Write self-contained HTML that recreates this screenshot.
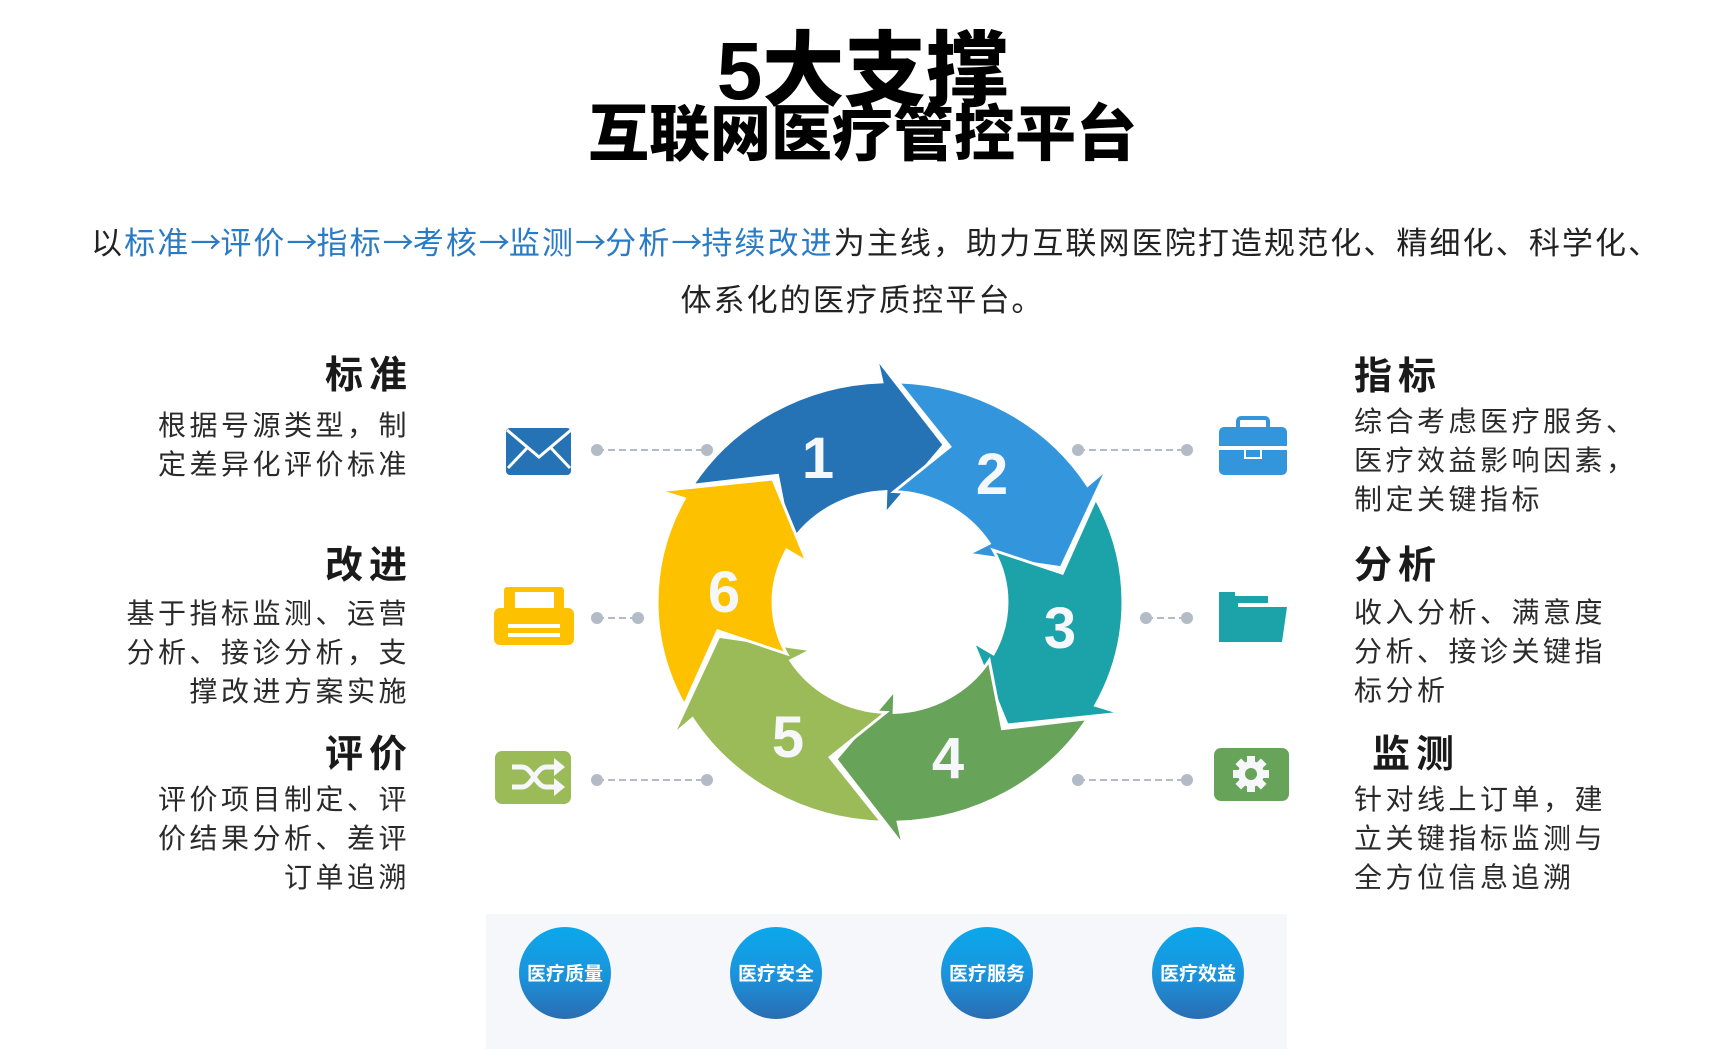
<!DOCTYPE html>
<html><head><meta charset="utf-8"><style>
body{margin:0;width:1725px;height:1049px;background:#fff;position:relative;overflow:hidden;font-family:"Liberation Sans","Noto Sans CJK SC",sans-serif;color:#222}
.a{position:absolute;white-space:nowrap}
.t1{left:0;width:1725px;text-align:center;top:24px;font-size:82px;font-weight:900;line-height:96px;color:#000}
.t2{left:0;width:1725px;text-align:center;top:96px;font-size:61px;font-weight:900;line-height:76px;color:#000}
.sub{left:91px;top:220px;font-size:31px;line-height:42px;color:#222;letter-spacing:2.1px}
.sub b{font-weight:normal;color:#2a7bc6}
.ar{font-family:"Noto Sans CJK SC",sans-serif;letter-spacing:-1px}
.h{font-size:38px;font-weight:bold;letter-spacing:6px;color:#1a1a1a;line-height:44px}
.p{font-size:28px;line-height:39px;color:#2a2a2a;letter-spacing:3.5px}
.L{right:1315px;text-align:right}
.R{left:1354px}
</style></head><body>
<div class="a t1">5大支撑</div>
<div class="a t2">互联网医疗管控平台</div>
<div class="a sub">以<b>标准<span class="ar">→</span>评价<span class="ar">→</span>指标<span class="ar">→</span>考核<span class="ar">→</span>监测<span class="ar">→</span>分析<span class="ar">→</span>持续改进</b>为主线，助力互联网医院打造规范化、精细化、科学化、</div>
<div class="a sub" style="left:0;width:1725px;text-align:center;top:280px">体系化的医疗质控平台。</div>

<div class="a h L" style="top:354px;right:1312px">标准</div>
<div class="a p L" style="top:406px">根据号源类型，制<br>定差异化评价标准</div>
<div class="a h L" style="top:544px;right:1312px">改进</div>
<div class="a p L" style="top:594px">基于指标监测、运营<br>分析、接诊分析，支<br>撑改进方案实施</div>
<div class="a h L" style="top:733px;right:1312px">评价</div>
<div class="a p L" style="top:780px">评价项目制定、评<br>价结果分析、差评<br>订单追溯</div>

<div class="a h R" style="top:355px">指标</div>
<div class="a p R" style="top:402px">综合考虑医疗服务、<br>医疗效益影响因素，<br>制定关键指标</div>
<div class="a h R" style="top:544px">分析</div>
<div class="a p R" style="top:593px">收入分析、满意度<br>分析、接诊关键指<br>标分析</div>
<div class="a h R" style="top:733px;left:1372px">监测</div>
<div class="a p R" style="top:780px">针对线上订单，建<br>立关键指标监测与<br>全方位信息追溯</div>

<svg class="a" style="left:0;top:0" width="1725" height="1049">
<defs><linearGradient id="g" x1="0" y1="0" x2="0" y2="1"><stop offset="0" stop-color="#0aa8ec"/><stop offset="0.5" stop-color="#1a95dd"/><stop offset="1" stop-color="#2a6db3"/></linearGradient></defs>
<g stroke="#b3bcc6" stroke-width="2" stroke-dasharray="7,4">
<line x1="597" y1="450" x2="707" y2="450"/><line x1="597" y1="618" x2="638" y2="618"/><line x1="597" y1="780" x2="707" y2="780"/>
<line x1="1078" y1="450" x2="1187" y2="450"/><line x1="1146" y1="618" x2="1187" y2="618"/><line x1="1078" y1="780" x2="1187" y2="780"/>
</g>
<g fill="#b3bcc6">
<circle cx="597" cy="450" r="6"/><circle cx="707" cy="450" r="6"/><circle cx="597" cy="618" r="6"/><circle cx="638" cy="618" r="6"/><circle cx="597" cy="780" r="6"/><circle cx="707" cy="780" r="6"/>
<circle cx="1078" cy="450" r="6"/><circle cx="1187" cy="450" r="6"/><circle cx="1146" cy="618" r="6"/><circle cx="1187" cy="618" r="6"/><circle cx="1078" cy="780" r="6"/><circle cx="1187" cy="780" r="6"/>
</g>
<rect x="506" y="428" width="65" height="47" rx="4" fill="#2573b5"/>
<path d="M507 430 L539 457 L571 430 M508 468 L527 448 M570 468 L551 448" stroke="#fff" stroke-width="3" fill="none"/>
<rect x="504" y="587" width="60" height="30" rx="3" fill="#fdc100"/>
<rect x="515" y="592" width="39" height="18" fill="#fff"/>
<rect x="494" y="608" width="80" height="37" rx="6" fill="#fdc100"/>
<rect x="508" y="624" width="52" height="4" fill="#fff"/><rect x="508" y="633" width="52" height="4" fill="#fff"/>
<rect x="495" y="751" width="76" height="53" rx="7" fill="#9bbb59"/>
<path d="M512 767 h10 c10 0 14 20 24 20 h10 M512 787 h10 c10 0 14 -20 24 -20 h10" stroke="#f5f7fa" stroke-width="5" fill="none"/>
<path d="M554 758 l11 9 l-11 9z M554 778 l11 9 l-11 9z" fill="#f5f7fa"/>
<rect x="1238" y="418" width="30" height="14" rx="3" fill="none" stroke="#3396dc" stroke-width="4"/>
<rect x="1219" y="427" width="68" height="48" rx="5" fill="#3396dc"/>
<rect x="1219" y="446" width="68" height="4" fill="#fff"/>
<rect x="1245" y="449" width="16" height="9" fill="#3396dc" stroke="#fff" stroke-width="2"/>
<path d="M1219 592 h16 v4 h33 v7 h-30 v39 h-19z" fill="#1ba3a9"/>
<path d="M1232 607 h55 l-5 35 h-50z" fill="#1ba3a9"/>
<rect x="1214" y="748" width="75" height="53" rx="7" fill="#68a35a"/>
<g transform="translate(1251,774)" fill="#f5f7fa">
<circle r="13"/>
<g id="tk"><rect x="-4" y="-18" width="8" height="8"/></g>
<use href="#tk" transform="rotate(45)"/><use href="#tk" transform="rotate(90)"/><use href="#tk" transform="rotate(135)"/><use href="#tk" transform="rotate(180)"/><use href="#tk" transform="rotate(225)"/><use href="#tk" transform="rotate(270)"/><use href="#tk" transform="rotate(315)"/>
<circle r="6" fill="#68a35a"/>
</g>
<g id="ring" transform="translate(890,602) scale(1,0.945)" stroke="#fff" stroke-width="3" stroke-linejoin="miter"></g>
<g font-family="Liberation Sans,sans-serif" font-weight="bold" font-size="58" fill="#f5f7fa" text-anchor="middle">
<text x="818" y="478">1</text><text x="992" y="494">2</text><text x="1060" y="648">3</text><text x="948" y="778">4</text><text x="788" y="757">5</text><text x="724" y="612">6</text>
</g>
<rect x="486" y="914" width="801" height="135" fill="#f5f7fa"/>
<g fill="url(#g)"><circle cx="565" cy="973" r="46"/><circle cx="776" cy="973" r="46"/><circle cx="987" cy="973" r="46"/><circle cx="1198" cy="973" r="46"/></g>
<g font-family="Liberation Sans,Noto Sans CJK SC,sans-serif" font-weight="bold" font-size="19" fill="#fff" text-anchor="middle">
<text x="565" y="980">医疗质量</text><text x="776" y="980">医疗安全</text><text x="987" y="980">医疗服务</text><text x="1198" y="980">医疗效益</text>
</g>
</svg>
<script>
(function(){
var Ro=233,Ri=117,Rm=175,cols=["#2573b5","#3396dc","#1ba3a9","#68a35a","#9bbb59","#fdc100"];
function P(r,a){a=a*Math.PI/180;return (r*Math.cos(a)).toFixed(1)+" "+(r*Math.sin(a)).toFixed(1);}
var g=document.getElementById("ring"),s="";
for(var k=0;k<6;k++){var c=-113+60*k;
var d="M"+P(Ro,c-35)+" A"+Ro+" "+Ro+" 0 0 1 "+P(Ro,c+21)+" L"+P(Ro+26,c+20)+" L"+P(Rm,c+41)+" L"+P(Ri-24,c+20)+" L"+P(Ri,c+21)+" A"+Ri+" "+Ri+" 0 0 0 "+P(Ri,c-35)+" L"+P(Rm,c-17)+" Z";
s+='<path d="'+d+'" fill="'+cols[k]+'"/>';}
g.innerHTML=s;
})();
</script>
</body></html>
